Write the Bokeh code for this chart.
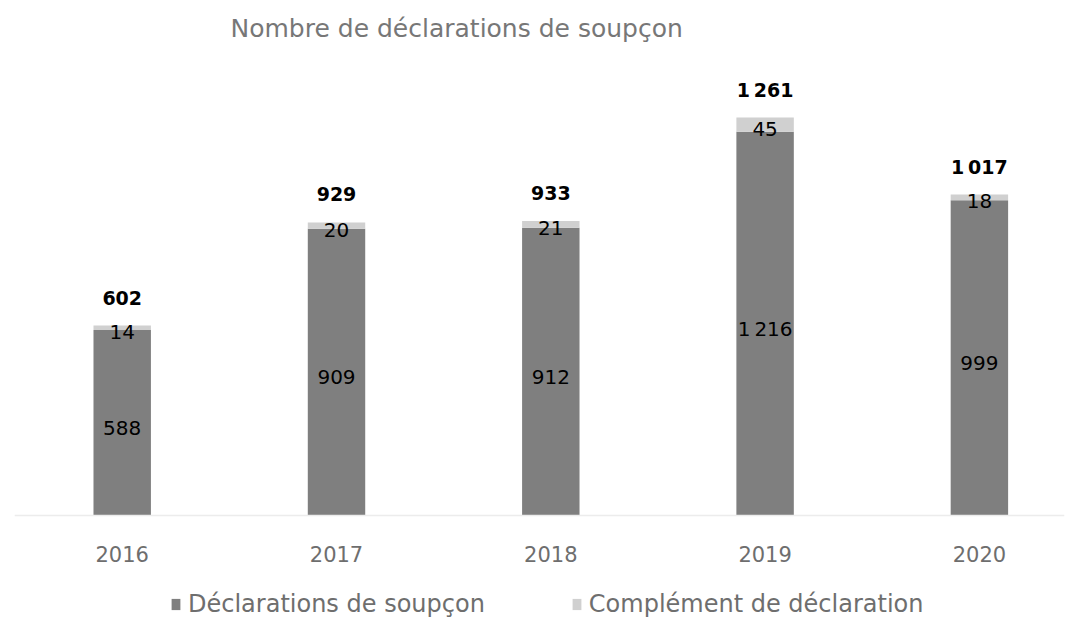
from bokeh.plotting import figure
from bokeh.models import (ColumnDataSource, Range1d, Legend, LegendItem,
                          Title, Span)
from bokeh.embed import file_html
from bokeh.resources import INLINE
from bokeh.core.properties import value

# ---------------- data ----------------
years = ["2016", "2017", "2018", "2019", "2020"]
declarations = [588, 909, 912, 1216, 999]
complements = [14, 20, 21, 45, 18]
totals = [602, 929, 933, 1261, 1017]
series_names = ["Déclarations de soupçon", "Complément de déclaration"]
title_text = "Nombre de déclarations de soupçon"

# ---------------- styles ----------------
DARK = "#7f7f7f"
LIGHT = "#d0d0d0"
GRAY_TXT = "#6e6e6e"
FONT_TXT = "DejaVu Sans"
FONT_NUM = "DejaVu Sans"


def fr(v):
    # French thousands separator (narrow no-break space)
    return f"{v:,}".replace(",", "\u202f")


xs = list(range(len(years)))
src = ColumnDataSource(dict(
    x=xs,
    base=[0] * len(xs),
    year=years,
    decl=declarations,
    comp=complements,
    total=totals,
    decl_mid=[d / 2 for d in declarations],
    comp_mid=[d + c / 2 for d, c in zip(declarations, complements)],
    decl_lbl=[fr(v) for v in declarations],
    comp_lbl=[fr(v) for v in complements],
    total_lbl=[fr(v) for v in totals],
))

p = figure(width=1078, height=634,
           x_range=Range1d(-0.5026, 4.3971), y_range=Range1d(-377, 1480),
           output_backend="svg", toolbar_location=None,
           x_axis_location=None, y_axis_location=None,
           min_border_left=14, min_border_right=14, min_border_top=48,
           min_border_bottom=0, outline_line_color=None,
           background_fill_color="white", border_fill_color="white")

p.title = Title(text=title_text, align="left", offset=216, standoff=11,
                text_font=FONT_TXT, text_font_size="25px",
                text_font_style="normal", text_color="#777777")

p.grid.visible = False

# baseline (category axis line)
p.add_layout(Span(location=0, dimension="width", line_color="#ececec",
                  line_width=1.5))

rs = p.vbar_stack(["decl", "comp"], x="x", width=0.268, source=src,
                  fill_color=[DARK, LIGHT], line_color=None)

# data labels
p.text(x="x", y="decl_mid", text="decl_lbl", source=src,
       text_align="center", text_baseline="middle", y_offset=5,
       text_font=value(FONT_NUM), text_font_size="20px", text_color="#000000")
p.text(x="x", y="comp_mid", text="comp_lbl", source=src,
       text_align="center", text_baseline="middle", y_offset=4,
       text_font=value(FONT_NUM), text_font_size="20px", text_color="#000000")
p.text(x="x", y="total", text="total_lbl", source=src,
       text_align="center", text_baseline="middle", y_offset=-28,
       text_font=value(FONT_NUM), text_font_size="19px",
       text_font_style="bold", text_color="#000000")

# category (year) labels under the baseline
p.text(x="x", y="base", text="year", source=src,
       text_align="center", text_baseline="middle", y_offset=38,
       text_font=value(FONT_TXT), text_font_size="21px", text_color=GRAY_TXT)

legend = Legend(items=[LegendItem(label=series_names[0], renderers=[rs[0]]),
                       LegendItem(label=series_names[1], renderers=[rs[1]])],
                orientation="horizontal", location=(156, 16),
                glyph_width=11, glyph_height=14, label_standoff=7,
                spacing=86, padding=0, margin=0,
                border_line_color=None, background_fill_alpha=0,
                label_text_font=FONT_TXT, label_text_font_size="24px",
                label_text_color=GRAY_TXT)
p.add_layout(legend, "center")

open("out.html", "w").write(file_html(p, INLINE))
